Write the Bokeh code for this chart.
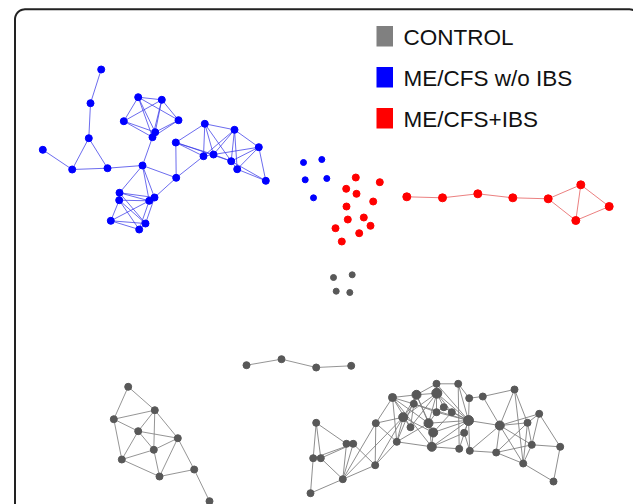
import numpy as np
from bokeh.plotting import figure
from bokeh.models import Range1d
from bokeh.core.properties import value
from bokeh.embed import file_html
from bokeh.resources import INLINE

# ---------------- data ----------------
groups = ["CONTROL", "ME/CFS w/o IBS", "ME/CFS+IBS"]
group_colors = ["#808080", "#0000ff", "#ff0000"]

# ME/CFS w/o IBS network
blue_x = [100.7, 90, 88.3, 42.3, 71.7, 107, 142, 137.7, 161.3, 123.3, 178, 154.7, 152,
          175.3, 175.7, 204.3, 234, 258.3, 203, 213, 230.7, 236.7, 265.3,
          119, 118.7, 154, 148.7, 110.3, 145, 138.7]
blue_y = [69, 102.7, 137.7, 149.3, 169, 167.7, 165, 96.7, 99.3, 120.7, 119.7, 131.7, 136.7,
          142, 177.3, 123.3, 129.3, 146.7, 155.7, 154, 160.7, 168.7, 180.3,
          192.3, 199.7, 197, 200.3, 220.3, 223, 229]
blue_edges = [(0, 1), (1, 2), (2, 4), (2, 5), (3, 4), (4, 5), (5, 6), (6, 12), (6, 14),
              (7, 8), (7, 9), (7, 11), (7, 12), (8, 10), (8, 11), (8, 12), (8, 9), (9, 11),
              (9, 12), (10, 11), (10, 12), (11, 12), (7, 10),
              (13, 14), (13, 15), (13, 18), (13, 19), (14, 18), (15, 18), (15, 19), (15, 20),
              (15, 16), (16, 17), (16, 19), (16, 20), (16, 21), (17, 19), (17, 20), (17, 21),
              (17, 22), (18, 19), (16, 18), (19, 20), (20, 21), (20, 22), (21, 22), (13, 20),
              (6, 23), (6, 25), (6, 26), (23, 24), (23, 25), (23, 26), (24, 26), (24, 27),
              (24, 28), (24, 29), (25, 26), (25, 28), (26, 27), (26, 29), (27, 28), (27, 29),
              (28, 29), (25, 14), (23, 28)]
blue_iso_x = [303, 321.3, 304.7, 326.3, 313]
blue_iso_y = [162, 159, 179.3, 178, 197.3]

# ME/CFS+IBS network
red_x = [406.3, 442, 477.3, 512.3, 547.7, 580.3, 575.3, 608.7]
red_y = [196.3, 197.3, 193.3, 197.3, 198.3, 184.3, 220, 206]
red_edges = [(0, 1), (1, 2), (2, 3), (3, 4), (4, 5), (4, 6), (5, 6), (5, 7), (6, 7)]
red_iso_x = [355.3, 345.7, 356, 379.3, 372.7, 346, 347.3, 363.3, 335, 370, 358.7, 341.3]
red_iso_y = [177, 188.3, 193.3, 181.7, 201, 206, 219, 217, 227.7, 225.3, 232.7, 241]

# CONTROL networks
gray_iso_x = [333, 351.7, 335.7, 349.3]
gray_iso_y = [277, 274.3, 290.7, 292]

chain_x = [246, 281, 315.7, 350.7]
chain_y = [364.7, 358.7, 367, 365.3]
chain_edges = [(0, 1), (1, 2), (2, 3)]

left_x = [127.7, 154.3, 113.3, 137.7, 177.3, 153.3, 121.3, 159, 193.7, 209]
left_y = [386.3, 409.7, 418.7, 430.7, 437.7, 449.3, 459, 476, 469, 500.7]
left_edges = [(0, 1), (0, 2), (1, 2), (1, 3), (1, 5), (1, 4), (2, 3), (2, 6), (3, 4), (3, 5),
              (3, 6), (4, 5), (4, 7), (4, 8), (5, 6), (5, 7), (6, 7), (7, 8), (8, 9)]

right_x = [315.7, 312.7, 320.3, 310, 346, 352.7, 342.3, 374.7, 375.3, 392, 396.3, 402.7,
           410, 416, 413.3, 436, 436.3, 428, 432.7, 431.3, 436, 443.3, 451.3, 457.7, 468.7,
           468, 463.7, 458.7, 469.3, 482.3, 514, 499.3, 495.7, 527, 538.7, 531.3, 522.7,
           559.7, 553]
right_y = [422.3, 457.7, 457.7, 492.7, 443.3, 443.3, 478.7, 464.7, 422.7, 397, 441.3, 416.7,
           426.7, 394.3, 403.3, 383.3, 392.7, 422.7, 432, 446.3, 411.7, 406.7, 411.7, 383.3,
           397.7, 420, 432.3, 448.3, 450.3, 396, 389, 425, 452, 422.3, 413.3, 444.3, 463,
           446.3, 481]
right_size = [7, 7, 7, 7, 7, 7, 7, 7, 7, 8, 7, 9, 7, 9, 7, 7, 10, 9, 9, 9, 7, 7, 7, 7, 7,
              10, 7, 7, 7, 7, 7, 9, 7, 7, 7, 7, 7, 7, 7]
_re = [(1, 2), (1, 3), (1, 5), (2, 3), (2, 4), (2, 6), (3, 6), (3, 7), (4, 8), (5, 6), (5, 7),
       (6, 7), (6, 8), (7, 9), (7, 12), (8, 9), (8, 11), (8, 12), (9, 10), (9, 12), (10, 11),
       (10, 14), (10, 13), (10, 18), (10, 20), (10, 26), (11, 12), (11, 18), (11, 20), (12, 14),
       (12, 13), (12, 19), (13, 15), (14, 17), (14, 16), (14, 18), (14, 19), (15, 21), (16, 21),
       (16, 17), (16, 24), (17, 22), (17, 18), (17, 26), (18, 19), (18, 21), (18, 26), (19, 20),
       (19, 23), (20, 28), (20, 27), (21, 22), (22, 23), (23, 26), (24, 25), (24, 26), (24, 28),
       (25, 26), (25, 30), (26, 27), (26, 28), (26, 29), (26, 32), (27, 29), (29, 32), (29, 33),
       (30, 31), (30, 32), (31, 32), (31, 34), (31, 37), (32, 33), (32, 34), (32, 36), (32, 37),
       (33, 34), (33, 36), (34, 35), (34, 36), (34, 37), (35, 36), (35, 38), (36, 37), (36, 38),
       (37, 39), (38, 39), (32, 35), (33, 37), (12, 17), (19, 26), (20, 26), (17, 23), (15, 12),
       (15, 14), (9, 11), (11, 14), (13, 17), (22, 26), (21, 26), (18, 20), (16, 26)]
right_edges = [(a - 1, b - 1) for a, b in _re]

# ---------------- figure ----------------
W, H = 633, 504
p = figure(width=W, height=H, output_backend="svg", toolbar_location=None,
           x_range=Range1d(0, W), y_range=Range1d(H, 0),
           min_border=0, outline_line_color=None, background_fill_color="white",
           x_axis_location=None, y_axis_location=None)
p.grid.visible = False


def draw_edges(xs, ys, edges, color, alpha, width=1):
    ex = [[xs[a], xs[b]] for a, b in edges]
    ey = [[ys[a], ys[b]] for a, b in edges]
    p.multi_line(ex, ey, line_color=color, line_alpha=alpha, line_width=width)


draw_edges(blue_x, blue_y, blue_edges, "#3b3be8", 0.75)
draw_edges(red_x, red_y, red_edges, "#e86a6a", 0.85)
draw_edges(chain_x, chain_y, chain_edges, "#8a8a8a", 0.9)
draw_edges(left_x, left_y, left_edges, "#8a8a8a", 0.9)
draw_edges(right_x, right_y, right_edges, "#7a7a7a", 0.85)

node_gray = "#585858"
p.scatter(blue_x, blue_y, size=7, color="#0000ff")
p.scatter(blue_iso_x, blue_iso_y, size=6, color="#0000ff")
p.scatter(red_x, red_y, size=8, color="#ff0000")
p.scatter(red_iso_x, red_iso_y, size=7, color="#ff0000")
p.scatter(gray_iso_x, gray_iso_y, size=6, color=node_gray)
p.scatter(chain_x, chain_y, size=7, color=node_gray)
p.scatter(left_x, left_y, size=7, color=node_gray)
p.scatter(right_x, right_y, size=right_size, color=node_gray)

# legend
lx0 = 376
for i, (g, c) in enumerate(zip(groups, group_colors)):
    top = 25.5 + i * 41
    p.quad(left=[lx0], right=[lx0 + 16.5], top=[top], bottom=[top + 20.5],
           fill_color=c, line_color=None)
    p.text(x=[403], y=[top + 11.5], text=[g], text_font=value("Liberation Sans"),
           text_font_size="22.5px", text_color="#111111", text_baseline="middle")

# rounded frame (right side lies outside the visible area)
r = 10
xl, yt, xr = 14.5, 8.8, 639.0
t1 = np.linspace(np.pi, 1.5 * np.pi, 12)
t2 = np.linspace(1.5 * np.pi, 2 * np.pi, 12)
fx = [xl] + list(xl + r + r * np.cos(t1)) + list(xr - r + r * np.cos(t2)) + [xr]
fy = [H] + list(yt + r + r * np.sin(t1)) + list(yt + r + r * np.sin(t2)) + [H]
p.line(fx, fy, line_color="#222222", line_width=2)

open("out.html", "w").write(file_html(p, INLINE))
